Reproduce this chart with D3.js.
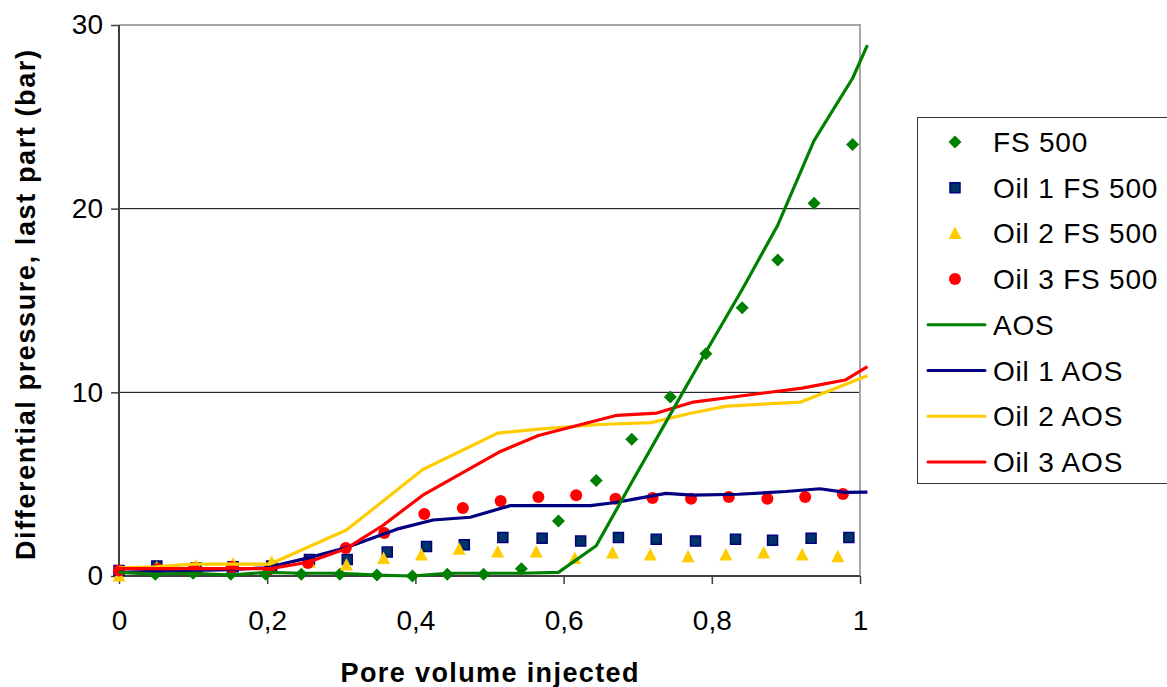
<!DOCTYPE html>
<html>
<head>
<meta charset="utf-8">
<script src="https://cdn.jsdelivr.net/npm/d3@7"></script>
<style>
  body { margin: 0; background: #fff; }
  svg { display: block; font-family: "Liberation Sans", Arial, sans-serif; }
</style>
</head>
<body>
<div id="chart"></div>
<script>
// values
var fs500X = [0, 0.049, 0.1, 0.151, 0.198, 0.246, 0.298, 0.348, 0.396, 0.443, 0.492, 0.543, 0.593, 0.644, 0.692, 0.744, 0.792, 0.841, 0.889, 0.938, 0.99];
var fs500Y = [0.2, 0.1, 0.15, 0.1, 0.1, 0.1, 0.1, 0.05, 0.0, 0.1, 0.1, 0.4, 3.0, 5.2, 7.45, 9.75, 12.1, 14.6, 17.2, 20.3, 23.5];

var oil1FsX = [0, 0.051, 0.104, 0.154, 0.206, 0.257, 0.308, 0.362, 0.415, 0.466, 0.518, 0.571, 0.623, 0.674, 0.725, 0.778, 0.832, 0.882, 0.934, 0.985];
var oil1FsY = [0.3, 0.55, 0.45, 0.5, 0.55, 0.9, 0.9, 1.3, 1.6, 1.7, 2.1, 2.05, 1.9, 2.1, 2.0, 1.9, 2.0, 1.95, 2.05, 2.1];

var oil2FsX = [0, 0.051, 0.104, 0.154, 0.206, 0.257, 0.307, 0.357, 0.408, 0.459, 0.511, 0.563, 0.615, 0.666, 0.717, 0.768, 0.819, 0.87, 0.922, 0.97];
var oil2FsY = [0.0, 0.45, 0.55, 0.65, 0.75, 0.75, 0.6, 0.95, 1.15, 1.45, 1.3, 1.3, 0.95, 1.25, 1.15, 1.05, 1.15, 1.25, 1.15, 1.05];

var oil3FsX = [0, 0.053, 0.101, 0.152, 0.203, 0.255, 0.306, 0.358, 0.412, 0.464, 0.515, 0.566, 0.617, 0.67, 0.72, 0.772, 0.823, 0.875, 0.926, 0.977];
var oil3FsY = [0.3, 0.38, 0.44, 0.49, 0.38, 0.71, 1.52, 2.34, 3.38, 3.7, 4.08, 4.3, 4.4, 4.2, 4.25, 4.2, 4.3, 4.2, 4.3, 4.46];

var aosX = [0, 0.049, 0.1, 0.151, 0.198, 0.246, 0.298, 0.348, 0.396, 0.443, 0.492, 0.543, 0.593, 0.644, 0.692, 0.744, 0.792, 0.841, 0.889, 0.938, 0.99, 1.01];
var aosY = [0.2, 0.1, 0.15, 0.05, 0.2, 0.15, 0.15, 0.05, 0.0, 0.15, 0.15, 0.15, 0.2, 1.65, 5.1, 8.8, 12.2, 15.6, 19.1, 23.7, 27.1, 28.9];

var oil1AosX = [0, 0.05, 0.1, 0.15, 0.198, 0.257, 0.307, 0.375, 0.424, 0.474, 0.528, 0.59, 0.636, 0.67, 0.697, 0.738, 0.774, 0.836, 0.9, 0.946, 0.98, 1.01];
var oil1AosY = [0.2, 0.25, 0.3, 0.35, 0.45, 1.0, 1.55, 2.55, 3.05, 3.2, 3.83, 3.83, 3.83, 4.0, 4.2, 4.5, 4.4, 4.45, 4.6, 4.75, 4.55, 4.57];

var oil2AosX = [0, 0.05, 0.1, 0.154, 0.204, 0.307, 0.41, 0.511, 0.567, 0.648, 0.718, 0.77, 0.82, 0.92, 1.01];
var oil2AosY = [0.45, 0.5, 0.65, 0.65, 0.65, 2.5, 5.8, 7.78, 8.0, 8.25, 8.35, 8.85, 9.25, 9.47, 10.9];

var oil3AosX = [0, 0.05, 0.1, 0.15, 0.204, 0.255, 0.307, 0.356, 0.41, 0.513, 0.566, 0.672, 0.726, 0.775, 0.922, 0.98, 1.01];
var oil3AosY = [0.4, 0.4, 0.4, 0.4, 0.4, 0.75, 1.5, 2.75, 4.4, 6.75, 7.65, 8.75, 8.87, 9.47, 10.23, 10.67, 11.4];

var xTicks = [0, 0.2, 0.4, 0.6, 0.8, 1];
var yTicks = [0, 10, 20, 30];
var legendNames = ["FS 500", "Oil 1 FS 500", "Oil 2 FS 500", "Oil 3 FS 500", "AOS", "Oil 1 AOS", "Oil 2 AOS", "Oil 3 AOS"];

var GREEN = "#008000", NAVY = "#000080", YELLOW = "#FFCC00", RED = "#FF0000";

var width = 1167, height = 687;
var svg = d3.select("#chart").append("svg").attr("width", width).attr("height", height);

var x = d3.scaleLinear().domain([0, 1]).range([119, 860]);
var y = d3.scaleLinear().domain([0, 30]).range([576, 25]);

function zip(xs, ys) { return xs.map(function(v, i) { return [v, ys[i]]; }); }
function comma(d) { return String(d).replace(".", ","); }

// gridlines and plot frame
svg.append("g").selectAll("line").data([10, 20]).enter().append("line")
  .attr("x1", x(0)).attr("x2", x(1)).attr("y1", function(d) { return y(d); }).attr("y2", function(d) { return y(d); })
  .attr("stroke", "#000").attr("stroke-width", 1);
svg.append("path")
  .attr("d", "M" + x(0) + "," + y(30) + "H" + x(1) + "V" + y(0))
  .attr("fill", "none").attr("stroke", "#a6a6a6").attr("stroke-width", 2);

// axes
var yAxis = svg.append("g").attr("transform", "translate(" + x(0) + ",0)")
  .call(d3.axisLeft(y).tickValues(yTicks).tickSize(8).tickPadding(8).tickFormat(comma));
var xAxis = svg.append("g").attr("transform", "translate(0," + y(0) + ")")
  .call(d3.axisBottom(x).tickValues(xTicks).tickSize(8).tickPadding(26).tickFormat(comma));
[xAxis, yAxis].forEach(function(a) {
  a.select(".domain").attr("stroke", "#404040").attr("stroke-width", 2);
  a.selectAll(".tick line").attr("stroke", "#404040").attr("stroke-width", 1.5);
  a.selectAll(".tick text").attr("fill", "#000").style("font-size", "28px")
    .style("font-family", "'Liberation Sans', Arial, sans-serif");
});
xAxis.select(".domain").attr("d", "M" + x(0) + ",0H" + x(1));
yAxis.select(".domain").attr("d", "M0," + y(0) + "V" + y(30));

// axis titles
svg.append("text").attr("x", (x(0) + x(1)) / 2).attr("y", 682).attr("text-anchor", "middle")
  .attr("font-weight", "bold").attr("font-size", 27).attr("textLength", 298).attr("lengthAdjust", "spacing")
  .text("Pore volume injected");
svg.append("text").attr("transform", "translate(35,305) rotate(-90)").attr("text-anchor", "middle")
  .attr("font-weight", "bold").attr("font-size", 27).attr("textLength", 510).attr("lengthAdjust", "spacing")
  .text("Differential pressure, last part (bar)");

// marker shapes
var shapes = {
  diamond: "M0,-6.5L6.5,0L0,6.5L-6.5,0Z",
  square: "M-5,-5H5V5H-5Z",
  triangle: "M0,-7L6.5,5.5L-6.5,5.5Z",
  circle: "M6,0A6,6 0 1,1 -6,0A6,6 0 1,1 6,0Z"
};

var markerSeries = [
  { pts: zip(fs500X, fs500Y), shape: "diamond", fill: GREEN, stroke: "none" },
  { pts: zip(oil1FsX, oil1FsY), shape: "square", fill: "#003366", stroke: NAVY },
  { pts: zip(oil2FsX, oil2FsY), shape: "triangle", fill: YELLOW, stroke: "none" },
  { pts: zip(oil3FsX, oil3FsY), shape: "circle", fill: RED, stroke: "none" }
];
var lineSeries = [
  { pts: zip(oil1AosX, oil1AosY), color: NAVY },
  { pts: zip(oil2AosX, oil2AosY), color: YELLOW },
  { pts: zip(oil3AosX, oil3AosY), color: RED },
  { pts: zip(aosX, aosY), color: GREEN }
];

markerSeries.forEach(function(s) {
  svg.append("g").selectAll("path").data(s.pts).enter().append("path")
    .attr("d", shapes[s.shape])
    .attr("transform", function(d) { return "translate(" + x(d[0]) + "," + y(d[1]) + ")"; })
    .attr("fill", s.fill).attr("stroke", s.stroke).attr("stroke-width", 1.5);
});

var line = d3.line().x(function(d) { return x(d[0]); }).y(function(d) { return y(d[1]); });
lineSeries.forEach(function(s) {
  svg.append("path").datum(s.pts).attr("d", line)
    .attr("fill", "none").attr("stroke", s.color).attr("stroke-width", 3.2).attr("stroke-linejoin", "round");
});

// legend
var legend = svg.append("g");
legend.append("rect").attr("x", 917.5).attr("y", 117.5).attr("width", 260).attr("height", 366)
  .attr("fill", "#fff").attr("stroke", "#333").attr("stroke-width", 1);
var legendItems = [
  { type: "marker", s: markerSeries[0] },
  { type: "marker", s: markerSeries[1] },
  { type: "marker", s: markerSeries[2] },
  { type: "marker", s: markerSeries[3] },
  { type: "line", color: GREEN },
  { type: "line", color: NAVY },
  { type: "line", color: YELLOW },
  { type: "line", color: RED }
];
legendItems.forEach(function(it, i) {
  var cy = 142 + i * 45.7;
  if (it.type === "marker") {
    legend.append("path").attr("d", shapes[it.s.shape])
      .attr("transform", "translate(955," + cy + ")")
      .attr("fill", it.s.fill).attr("stroke", it.s.stroke).attr("stroke-width", 1.5);
  } else {
    legend.append("line").attr("x1", 928).attr("x2", 985).attr("y1", cy).attr("y2", cy)
      .attr("stroke", it.color).attr("stroke-width", 3).attr("stroke-linecap", "round");
  }
  legend.append("text").attr("x", 993).attr("y", cy + 10).attr("font-size", 28)
    .style("letter-spacing", "0.8px").text(legendNames[i]);
});
</script>
</body>
</html>
